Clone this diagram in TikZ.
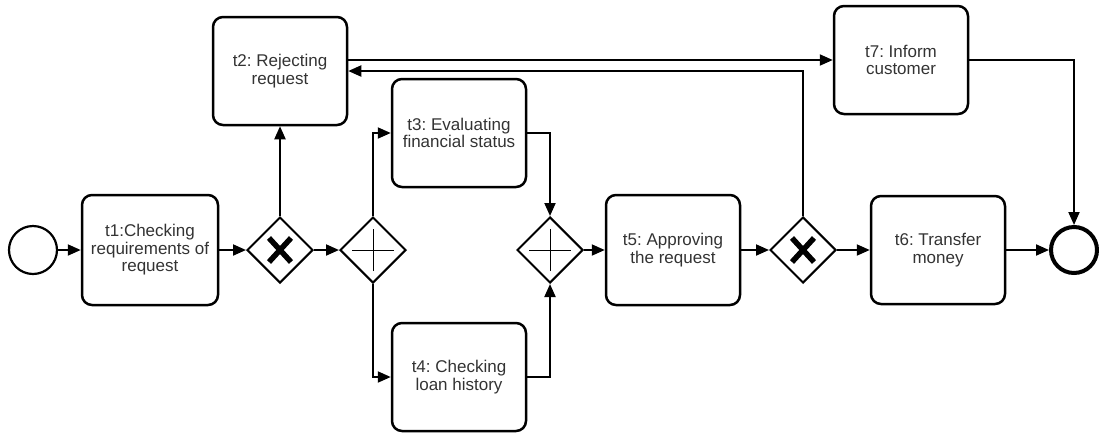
\documentclass[tikz,border=0pt]{standalone}
\usepackage{fontspec}
\setmainfont{Liberation Sans}
\usetikzlibrary{arrows.meta,shapes.geometric}
\begin{document}
\frenchspacing
\begin{tikzpicture}[x=1pt,y=-1pt,
  task/.style={draw, line width=2.5pt, rounded corners=10pt, minimum width=134pt,
    minimum height=108pt, align=center, inner sep=0pt, text=black!80,
    font=\fontsize{17}{17.5}\selectfont},
  gate/.style={draw, diamond, aspect=1, line width=2pt, minimum width=66pt,
    minimum height=66pt, inner sep=0pt},
  flow/.style={line width=2pt, -{Triangle[length=13pt,width=11pt]}},
  startev/.style={draw, circle, line width=2.2pt, minimum size=48pt, inner sep=0pt},
  endev/.style={draw, circle, line width=4pt, minimum size=46pt, inner sep=0pt},
  xmark/.style={line width=5.5pt},
  plusmark/.style={line width=1pt}]
\useasboundingbox (0,0) rectangle (1099,432);

% events
\node[startev] (start) at (33,250) {};
\node[endev] (end) at (1074,250) {};

% tasks
\node[task, minimum width=136pt, minimum height=110pt] (t1) at (150,250) {t1:Checking\\requirements of\\request};
\node[task] (t2) at (280,71) {t2: Rejecting\\request};
\node[task] (t3) at (459,133) {t3: Evaluating\\financial status};
\node[task] (t4) at (459,377) {t4: Checking\\loan history};
\node[task, minimum height=110pt] (t5) at (673,250) {t5: Approving\\the request};
\node[task] (t6) at (938,250) {t6: Transfer\\money};
\node[task] (t7) at (901,60) {t7: Inform\\customer};

% gateways
\node[gate] (g1) at (280,250) {};
\node[gate] (g2) at (373,250) {};
\node[gate] (g3) at (550,250) {};
\node[gate] (g4) at (803,250) {};

% exclusive markers
\foreach \g in {g1,g4}{
  \draw[xmark] ([shift={(-11pt,12pt)}]\g.center) -- ([shift={(11pt,-12pt)}]\g.center);
  \draw[xmark] ([shift={(-11pt,-12pt)}]\g.center) -- ([shift={(11pt,12pt)}]\g.center);
}
% parallel markers
\foreach \g in {g2,g3}{
  \draw[plusmark] ([xshift=-21pt]\g.center) -- ([xshift=21pt]\g.center);
  \draw[plusmark] ([yshift=-21pt]\g.center) -- ([yshift=21pt]\g.center);
}

% sequence flows
\draw[flow] (start) -- (t1);
\draw[flow] (t1) -- (g1);
\draw[flow] (g1.north) -- (t2.south);
\draw[flow] (g1) -- (g2);
\draw[flow] (g2.north) |- (t3.west);
\draw[flow] (g2.south) |- (t4.west);
\draw[flow] (t3.east) -| (g3.north);
\draw[flow] (t4.east) -| (g3.south);
\draw[flow] (g3) -- (t5);
\draw[flow] (t5) -- (g4);
\draw[flow] (g4) -- (t6);
\draw[flow] (t6) -- (end);
\draw[flow] (g4.north) |- (t2.east);
\draw[flow] (t2.east |- t7.west) -- (t7.west);
\draw[flow] (t7.east) -| (end.north);
\end{tikzpicture}
\end{document}
